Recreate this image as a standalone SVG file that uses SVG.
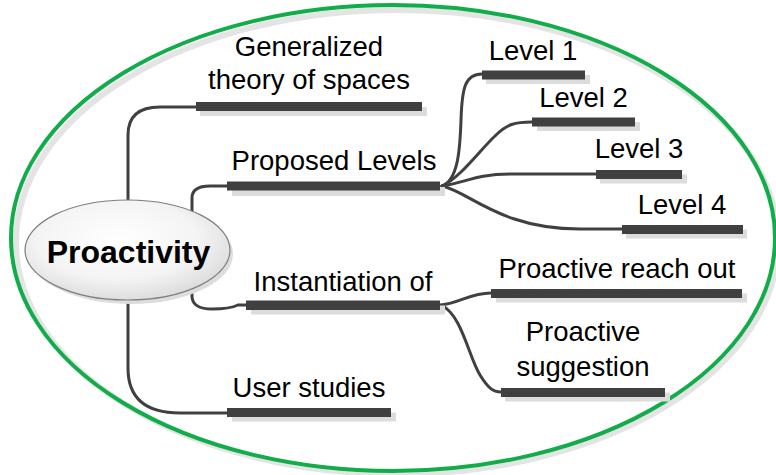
<svg xmlns="http://www.w3.org/2000/svg" width="776" height="475" viewBox="0 0 776 475">
<defs>
<radialGradient id="cg" cx="0.45" cy="0.4" r="0.65">
<stop offset="0" stop-color="#ffffff"/>
<stop offset="0.6" stop-color="#f4f4f4"/>
<stop offset="1" stop-color="#d8d8d8"/>
</radialGradient>
</defs>
<style>
.lbl{font-family:"Liberation Sans",Arial,sans-serif;font-size:27.5px;fill:#000;text-anchor:middle}
.bar{fill:#404040}
.sh{fill:#dcdcdc}
.con{fill:none;stroke:#404040;stroke-width:3;stroke-linecap:round}
</style>
<rect width="776" height="475" fill="#ffffff"/>
<g id="frame">
<ellipse cx="397" cy="242" rx="381" ry="232" fill="none" stroke="#e4e4e4" stroke-width="6"/>
<ellipse cx="393" cy="238" rx="382" ry="233" fill="none" stroke="#12ad4b" stroke-width="4"/>
</g>
<g id="connectors">
<path class="con" d="M128,200 L128,135 Q128,107 160,107 L198,107"/>
<path class="con" d="M192,212 L192,198 Q192,186 210,186 L228,186"/>
<path class="con" d="M192,288 L192,297 Q193,309 212,309 Q230,309 238,305 L247,305"/>
<path class="con" d="M128,300 L128,368 Q128,413 180,413 L228,413"/>
<path class="con" d="M442,186 C458,180 460,150 461,120 C462,88 465,74 482,74"/>
<path class="con" d="M442,186 C460,178 480,150 495,136 C507,124 515,122 532,122"/>
<path class="con" d="M442,186 C465,183 475,174 510,174 L596,174"/>
<path class="con" d="M442,186 C470,192 500,229 580,229 L622,229"/>
<path class="con" d="M441,305 C460,303 470,293 491,293"/>
<path class="con" d="M441,305 C462,315 468,355 480,375 C488,388 493,392 501,392"/>
</g>
<g id="n-proactivity">
<ellipse cx="131" cy="254" rx="102" ry="50" fill="#dddddd"/>
<ellipse cx="127.5" cy="250" rx="102.5" ry="50" fill="url(#cg)" stroke="#7f7f7f" stroke-width="1.2"/>
<text x="128.5" y="263" style="font-family:'Liberation Sans',Arial,sans-serif;font-size:32px;font-weight:bold;fill:#000;text-anchor:middle">Proactivity</text>
</g>
<g id="n-generalized">
<rect class="sh" x="200" y="107" width="227" height="9"/>
<rect class="bar" x="196" y="102" width="226" height="9"/>
<text class="lbl" x="309" y="56">Generalized</text>
<text class="lbl" x="309" y="89">theory of spaces</text>
</g>
<g id="n-proposed">
<rect class="sh" x="232" y="187" width="213" height="9"/>
<rect class="bar" x="227" y="181.5" width="213" height="9"/>
<text class="lbl" x="334" y="170">Proposed Levels</text>
</g>
<g id="n-level1">
<rect class="sh" x="486" y="75" width="104" height="9"/>
<rect class="bar" x="482" y="70.5" width="103" height="9"/>
<text class="lbl" x="533" y="60">Level 1</text>
</g>
<g id="n-level2">
<rect class="sh" x="537" y="122" width="103" height="9"/>
<rect class="bar" x="532" y="117.5" width="103" height="9"/>
<text class="lbl" x="583.5" y="106.5">Level 2</text>
</g>
<g id="n-level3">
<rect class="sh" x="600" y="174.5" width="87" height="9"/>
<rect class="bar" x="596" y="170" width="86" height="9"/>
<text class="lbl" x="639" y="158">Level 3</text>
</g>
<g id="n-level4">
<rect class="sh" x="626" y="229.5" width="121" height="9"/>
<rect class="bar" x="622" y="225" width="121" height="9"/>
<text class="lbl" x="682" y="214">Level 4</text>
</g>
<g id="n-instantiation">
<rect class="sh" x="251" y="305.5" width="194" height="9"/>
<rect class="bar" x="246" y="300.5" width="194" height="9.5"/>
<text class="lbl" x="343" y="290.5">Instantiation of</text>
</g>
<g id="n-reachout">
<rect class="sh" x="496" y="293.5" width="251" height="9"/>
<rect class="bar" x="491" y="289" width="251" height="9"/>
<text class="lbl" x="617" y="278">Proactive reach out</text>
</g>
<g id="n-suggestion">
<rect class="sh" x="505" y="392.5" width="165" height="9"/>
<rect class="bar" x="501" y="388" width="164" height="9"/>
<text class="lbl" x="583" y="340.5">Proactive</text>
<text class="lbl" x="583" y="376">suggestion</text>
</g>
<g id="n-userstudies">
<rect class="sh" x="232" y="412.5" width="164" height="9"/>
<rect class="bar" x="227" y="408" width="164" height="9"/>
<text class="lbl" x="309" y="396.5">User studies</text>
</g>
</svg>
